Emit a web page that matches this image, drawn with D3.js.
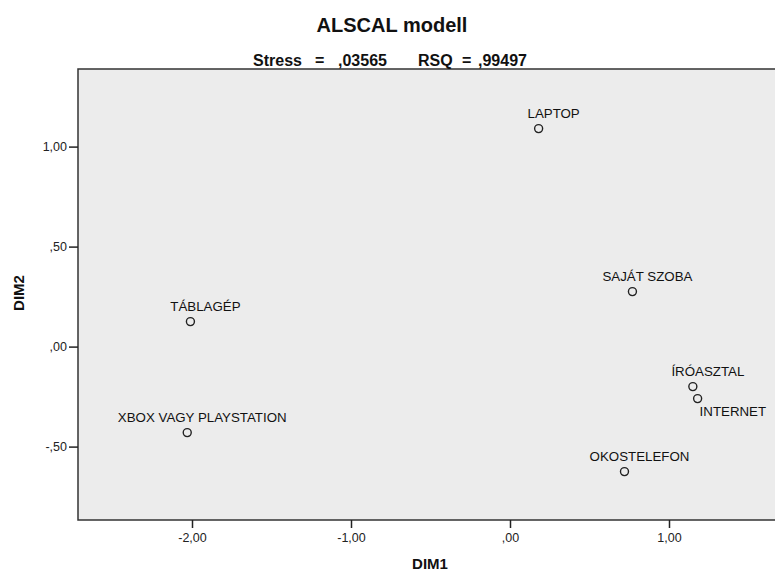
<!DOCTYPE html>
<html lang="hu">
<head>
  <meta charset="UTF-8">
  <title>ALSCAL modell</title>
  <style>
    body { margin: 0; background: #fff; font-family: 'Liberation Sans', Arial, sans-serif; }
    svg { display: block; }
    .tick text { fill: #222; font-size: 12.5px; }
    .tick line { stroke: #222; }
    .lbl { font-size: 13.3px; fill: #111; }
  </style>
</head>
<body>
  <svg id="chart" width="775" height="575"></svg>

  <script src="https://d3js.org/d3.v7.min.js"></script>
  <script>
    // Stimuli and their coordinates
    const stimuli = ['LAPTOP', 'SAJÁT SZOBA', 'ÍRÓASZTAL', 'INTERNET', 'OKOSTELEFON', 'TÁBLAGÉP', 'XBOX VAGY PLAYSTATION'];
    const dim1 = [0.18, 0.77, 1.15, 1.18, 0.72, -2.01, -2.03];
    const dim2 = [1.09, 0.275, -0.20, -0.26, -0.625, 0.125, -0.43];
    const labelSide = ['above', 'above', 'above', 'below', 'above', 'above', 'above'];

    const xTicks = [-2, -1, 0, 1];
    const yTicks = [-0.5, 0, 0.5, 1];

    const subtitle = ['Stress', '=', ',03565', 'RSQ', '=', ',99497'];

    // Hungarian style tick format: comma decimal, no leading zero
    const fmt = v => {
      const s = d3.format('.2f')(Math.abs(v)).replace('.', ',').replace(/^0/, '');
      return (v < 0 ? '-' : '') + s;
    };

    const svg = d3.select('#chart');
    const m = { left: 78, top: 69, right: 783, bottom: 520 };

    const x = d3.scaleLinear().domain([-2.717, 1.717]).range([m.left, m.right]);
    const y = d3.scaleLinear().domain([-0.867, 1.388]).range([m.bottom, m.top]);

    // plot area
    svg.append('rect')
      .attr('x', m.left).attr('y', m.top)
      .attr('width', m.right - m.left).attr('height', m.bottom - m.top)
      .attr('fill', '#ececec')
      .attr('stroke', '#333')
      .attr('stroke-width', 1.5);

    svg.append('g')
      .attr('transform', `translate(0,${m.bottom})`)
      .call(d3.axisBottom(x).tickValues(xTicks).tickFormat(fmt).tickSize(8).tickPadding(5))
      .call(g => g.select('.domain').remove())
      .call(g => g.selectAll('.tick line').attr('stroke-width', 1.5));

    svg.append('g')
      .attr('transform', `translate(${m.left},0)`)
      .call(d3.axisLeft(y).tickValues(yTicks).tickFormat(fmt).tickSize(9).tickPadding(2))
      .call(g => g.select('.domain').remove())
      .call(g => g.selectAll('.tick line').attr('stroke-width', 1.5));

    // titles
    svg.append('text')
      .attr('x', 392).attr('y', 32)
      .attr('text-anchor', 'middle')
      .attr('font-size', 20).attr('font-weight', 'bold').attr('fill', '#111')
      .text('ALSCAL modell');

    const subX = [253, 315, 338, 418, 462, 478];
    svg.append('g').selectAll('text')
      .data(subtitle)
      .enter().append('text')
      .attr('x', (d, i) => subX[i]).attr('y', 66)
      .attr('font-size', 16).attr('font-weight', 'bold').attr('fill', '#111')
      .text(d => d);

    svg.append('text')
      .attr('x', 430).attr('y', 569)
      .attr('text-anchor', 'middle')
      .attr('font-size', 15).attr('font-weight', 'bold').attr('fill', '#111')
      .text('DIM1');

    svg.append('text')
      .attr('transform', 'translate(24,293) rotate(-90)')
      .attr('text-anchor', 'middle')
      .attr('font-size', 15).attr('font-weight', 'bold').attr('fill', '#111')
      .text('DIM2');

    // points
    const pts = stimuli.map((name, i) => ({ name, x: dim1[i], y: dim2[i], side: labelSide[i] }));

    const g = svg.append('g');
    g.selectAll('circle')
      .data(pts)
      .enter().append('circle')
      .attr('cx', d => x(d.x))
      .attr('cy', d => y(d.y))
      .attr('r', 4)
      .attr('fill', 'none')
      .attr('stroke', '#222')
      .attr('stroke-width', 1.4);

    g.selectAll('text')
      .data(pts)
      .enter().append('text')
      .attr('class', 'lbl')
      .attr('x', d => d.side === 'above' ? x(d.x) + 15 : x(d.x) + 2)
      .attr('y', d => d.side === 'above' ? y(d.y) - 11 : y(d.y) + 17)
      .attr('text-anchor', d => d.side === 'above' ? 'middle' : 'start')
      .text(d => d.name);
  </script>
</body>
</html>
